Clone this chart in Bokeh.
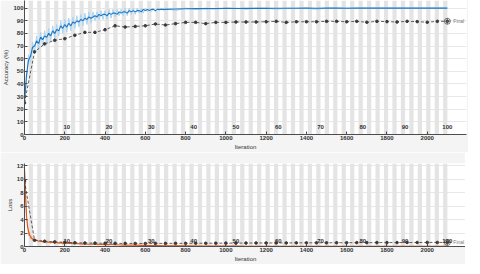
from bokeh.plotting import figure
from bokeh.layouts import column
from bokeh.models import FixedTicker
from bokeh.embed import file_html
from bokeh.resources import INLINE
from bokeh.core.properties import value

# ---------------- data ----------------
iters_per_epoch = 21
num_epochs = 100
epoch_labels = [10, 20, 30, 40, 50, 60, 70, 80, 90, 100]
x_ticks = [0, 200, 400, 600, 800, 1000, 1200, 1400, 1600, 1800, 2000]
acc_ticks = [0, 10, 20, 30, 40, 50, 60, 70, 80, 90, 100]
loss_ticks = [0, 2, 4, 6, 8, 10, 12]

acc_iters = list(range(0, 701, 10)) + list(range(750, 2101, 50))
train_acc_smooth = [
    26, 47, 59, 62, 69, 70, 74, 72, 77, 75, 78, 77, 80, 78, 82, 80, 83, 82, 86, 84,
    87, 85, 88, 86, 89, 88, 90, 89, 91, 90, 92, 91, 93, 92, 93, 94, 93, 95, 94, 95,
    95, 94, 96, 95, 96, 96, 95, 97, 96, 97, 97, 96, 98, 97, 98, 97, 98, 98, 97, 99,
    98, 99, 98, 99, 99, 98, 99, 99, 99, 99, 99,
    99.3, 99.5, 99.6, 99.6, 99.7, 99.8, 99.7, 99.8, 99.9, 99.8, 99.9, 99.9, 99.9, 100,
    99.9, 100, 100, 99.9, 100, 100, 100, 100, 100, 100, 100, 100, 100, 100]
train_acc_raw = [
    25, 42, 63, 57, 73, 65, 78, 67, 81, 70, 82, 72, 84, 74, 86, 76, 87, 78, 90, 80,
    91, 81, 92, 82, 93, 84, 94, 85, 95, 86, 96, 87, 97, 88, 97, 90, 97, 91, 98, 91,
    98, 91, 99, 92, 99, 93, 99, 94, 99, 94, 100, 94, 100, 95, 100, 95, 100, 96, 100, 96,
    100, 97, 100, 97, 100, 97, 100, 98, 100, 98, 100,
    98, 100, 99, 100, 99, 100, 100, 99, 100, 100, 99, 100, 100, 100,
    99, 100, 100, 100, 100, 100, 100, 100, 100, 100, 100, 100, 100, 100]

val_iters = list(range(0, 2101, 50))
val_acc = [25, 65.4, 71.7, 74.5, 75.8, 78.5, 80.8, 80.8, 82.9, 86, 85, 85.5, 86, 87.4,
           86.6, 87.7, 88.7, 88.7, 87.7, 88.7, 88.7, 89, 89, 89, 89.2, 89.5, 88.7, 89.2,
           89.2, 89.2, 89.5, 89.5, 89.2, 89.5, 88.8, 89.5, 89.3, 89, 89.5, 89.3, 88.8,
           89.5, 89.6]

loss_iters = (list(range(0, 51, 5)) + list(range(60, 201, 10))
              + list(range(250, 2101, 50)))
train_loss_smooth = [
    11.3, 7.5, 4.6, 3.0, 2.2, 1.7, 1.45, 1.25, 1.1, 1.0, 0.95,
    0.88, 0.82, 0.78, 0.74, 0.7, 0.67, 0.64, 0.62, 0.6, 0.58, 0.55, 0.53, 0.52, 0.5, 0.48,
    0.42, 0.37, 0.33, 0.29, 0.25, 0.22, 0.19, 0.16, 0.14, 0.12,
    0.1, 0.09, 0.08, 0.07, 0.06, 0.05, 0.05, 0.04, 0.04, 0.04,
    0.03, 0.03, 0.03, 0.03, 0.03,
    0.02, 0.02, 0.02, 0.02, 0.02, 0.02, 0.02, 0.02, 0.02, 0.02, 0.02, 0.02, 0.02]
train_loss_raw = [
    11.8, 9.0, 3.8, 4.0, 1.6, 2.2, 1.1, 1.6, 0.8, 1.3, 0.7,
    1.1, 0.6, 1.0, 0.5, 0.9, 0.45, 0.85, 0.4, 0.8, 0.4, 0.75, 0.35, 0.7, 0.3, 0.65,
    0.55, 0.25, 0.45, 0.18, 0.35, 0.12, 0.25, 0.08, 0.18, 0.06,
    0.12, 0.04, 0.09, 0.03, 0.07, 0.02, 0.05, 0.02, 0.04, 0.01,
    0.04, 0.01, 0.03, 0.01, 0.03,
    0.01, 0.02, 0.01, 0.02, 0.01, 0.02, 0.01, 0.02, 0.01, 0.02, 0.01, 0.02, 0.01]
val_loss = [9.7, 0.92, 0.78, 0.68, 0.62, 0.56, 0.52, 0.5, 0.48, 0.47, 0.46, 0.45, 0.45,
            0.46, 0.46, 0.47, 0.47, 0.48, 0.48, 0.49, 0.5, 0.5, 0.51, 0.52, 0.52, 0.53,
            0.53, 0.54, 0.54, 0.55, 0.55, 0.56, 0.56, 0.57, 0.57, 0.58, 0.58, 0.58, 0.59,
            0.59, 0.6, 0.6, 0.6]

# ---------------- styling ----------------
FONT = "Liberation Sans"
TXT = "#333333"
STRIPE = "#e4e4e4"
BORDER_BG = "#f4f4f4"
last_iter = iters_per_epoch * num_epochs
shaded = [e for e in range(1, num_epochs + 1) if e % 2 == 0]
stripe_left = [(e - 1) * iters_per_epoch for e in shaded]
stripe_right = [e * iters_per_epoch for e in shaded]
label_x = [e * iters_per_epoch for e in epoch_labels]
label_txt = [str(e) for e in epoch_labels]


def base_fig(frame_h, ymax, yticks, ylabel, top_border):
    p = figure(frame_width=442, frame_height=frame_h, output_backend="svg",
               toolbar_location=None, x_range=(0, 2195), y_range=(0, ymax),
               background_fill_color="white", border_fill_color=BORDER_BG,
               min_border_left=20, min_border_right=2, min_border_top=top_border,
               min_border_bottom=16)
    p.outline_line_color = None
    p.quad(left=stripe_left, right=stripe_right, bottom=0, top=ymax,
           fill_color=STRIPE, line_color=None)
    p.xaxis.ticker = FixedTicker(ticks=x_ticks)
    p.yaxis.ticker = FixedTicker(ticks=yticks)
    for ax in (p.xaxis[0], p.yaxis[0]):
        ax.major_label_text_font = FONT
        ax.major_label_text_font_size = "6px"
        ax.major_label_text_font_style = "bold"
        ax.major_label_text_color = TXT
        ax.axis_label_text_font = FONT
        ax.axis_label_text_font_size = "6px"
        ax.axis_label_text_font_style = "normal"
        ax.axis_label_text_color = TXT
        ax.axis_line_color = "#4d4d4d"
        ax.major_tick_line_color = "#4d4d4d"
        ax.major_tick_in = 3
        ax.major_tick_out = 0
        ax.minor_tick_line_color = None
        ax.major_label_standoff = 1
        ax.axis_label_standoff = 1
    p.xaxis.axis_label = "Iteration"
    p.yaxis.axis_label = ylabel
    p.xgrid.grid_line_color = None
    p.ygrid.grid_line_color = "#d8d8d8"
    p.ygrid.grid_line_alpha = 0.6
    return p


# ---------------- accuracy ----------------
p1 = base_fig(134, 106, acc_ticks, "Accuracy (%)", 0)
p1.line(acc_iters, train_acc_raw, line_color="#a9d5f2", line_width=1)
p1.line(acc_iters, train_acc_smooth, line_color="#1f77c4", line_width=1.1)
p1.line(val_iters, val_acc, line_color="#3a3a3a", line_width=0.8, line_dash="3 2")
p1.scatter(val_iters, val_acc, size=2.6, color="#3a3a3a")
p1.scatter([last_iter], [val_acc[-1]], marker="circle_cross", size=6,
           fill_color=None, line_color="#555555", line_width=0.8)
p1.text([last_iter], [val_acc[-1]], text=["Final"], x_offset=6, text_baseline="middle",
        text_font=value(FONT), text_font_size="5px", text_color="#777777")
p1.text(label_x, [4] * len(label_x), text=label_txt, text_align="center",
        text_baseline="bottom", text_font=value(FONT), text_font_size="6px",
        text_font_style="bold", text_color=TXT)

# ---------------- loss ----------------
p2 = base_fig(83, 12.3, loss_ticks, "Loss", 11)
p2.line(loss_iters, train_loss_raw, line_color="#f5b596", line_width=1)
p2.line(loss_iters, train_loss_smooth, line_color="#d95319", line_width=1.1)
p2.line(val_iters, val_loss, line_color="#3a3a3a", line_width=0.8, line_dash="3 2")
p2.scatter(val_iters, val_loss, size=2.6, color="#3a3a3a")
p2.scatter([last_iter], [val_loss[-1]], marker="circle_cross", size=6,
           fill_color=None, line_color="#555555", line_width=0.8)
p2.text([last_iter], [val_loss[-1]], text=["Final"], x_offset=6, text_baseline="middle",
        text_font=value(FONT), text_font_size="5px", text_color="#777777")
p2.text(label_x, [0.55] * len(label_x), text=label_txt, text_align="center",
        text_baseline="bottom", text_font=value(FONT), text_font_size="6px",
        text_font_style="bold", text_color=TXT)

layout = column(p1, p2, spacing=0)
open("out.html", "w").write(file_html(layout, INLINE))
